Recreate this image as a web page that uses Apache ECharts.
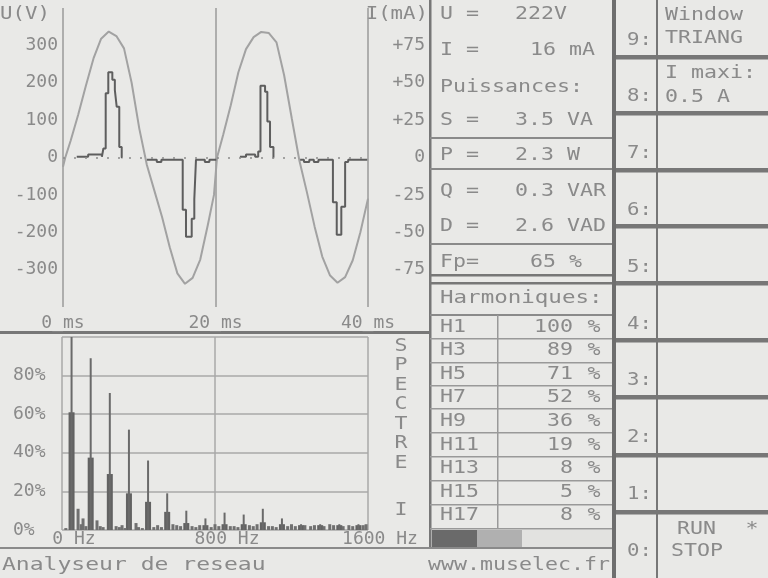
<!DOCTYPE html>
<html><head><meta charset="utf-8">
<script src="https://cdn.jsdelivr.net/npm/echarts@6/dist/echarts.min.js"></script>
<style>html,body{margin:0;padding:0;background:#e9e9e7;} #c{width:768px;height:578px;}</style>
</head><body><div id="c"></div>
<script>
// ---- waveform data (time ms) ----
const voltT = [0,0.3,1,2,3,4,5,6,7,8,9,10,11,12,13,14,15,16,17,18,19,19.8,20.2,21,22,23,24,25,26,27,28,29,30,31,32,33,34,35,36,37,38,39,40];
const voltV = [-25,0,45,115,192,265,318,337,325,292,200,78,-20,-90,-160,-240,-310,-338,-322,-273,-180,-100,0,60,140,228,290,322,336,333,308,220,105,-8,-94,-185,-265,-315,-335,-320,-275,-200,-110];
const curT = [1.8,3.3,5.1,5.3,5.6,5.94,6.47,6.8,7.04,7.38,7.7,7.8, 11.0,12.3,12.9,15.7,16.13,16.88,17.22,17.44,18.6,19.2,20.0,20.1, 23.2,24.0,25.2,25.6,25.9,26.5,26.8,27.15,27.6,27.7, 31.1,31.6,32.3,32.9,33.5,35.4,35.9,36.5,37.0,37.4,39.9];
const curI = [0.5,2,0.5,6,43,57,52,45,34,7,0,null, -1.5,-3,-1.5,-35,-53,-41,-28,-1.5,-3,-1.5,-1.5,null, 0.5,2,0.5,4,48,44,24,7,0,null, -1.5,-3,-1.5,-3,-1.5,-30,-51.6,-33,-3,-1.5,-1.5];
const timeLabels = ['0_ms','20_ms','40_ms'];
const voltTicks = [-300,-200,-100,0,100,200,300];
const curTicks = ['-75','-50','-25','0','+25','+50','+75'];

// ---- spectrum data ----
const harmFreq = [50,150,250,350,450,550,650,750,850,950,1050,1150,1250,1350,1450,1550];
const peakPct  = [100,89,71,52,36,19,10,6,9,8,11,6,3,3,3,3];
const windowPct= [61,37.5,29,19,14.6,9.4,3.6,2.5,3,3,4,3,2.5,2.5,2.5,2.5];
const noiseFreq = [20,84,100,110,125,183,200,215,283,300,314,330,387,400,420,480,500,520,580,600,620,680,700,720,780,800,820,880,900,920,980,1000,1020,1080,1100,1120,1180,1200,1220,1270,1300,1320,1370,1400,1420,1470,1500,1520,1575,1590];
const noisePct  = [1,11,3,6,2,5,2,1.5,2,1.5,2.5,1,3.6,1.5,1,1.5,2.5,1.5,3,2.5,2,2,1.5,2.5,1.5,3,2,2,2,1.5,2.5,2,3,2,2,1.5,2,3,2,2.5,2,2.5,2,3,2.5,2,2.5,2,2.5,3];
const freqLabels = ['0 Hz','800 Hz','1600 Hz'];
const pctLabels = ['0%','20%','40%','60%','80%'];

// ---- measurement panel ----
const measNames = ['U =','I =','S =','P =','Q =','D =','Fp='];
const measValues = ['222V','16 mA','3.5 VA','2.3 W','0.3 VAR','2.6 VAD','65 %'];
const harmNames = ['H1','H3','H5','H7','H9','H11','H13','H15','H17'];
const harmPct = [100,89,71,52,36,19,8,5,8];
const keyLabels = ['9:','8:','7:','6:','5:','4:','3:','2:','1:','0:'];

const FONT = 'DejaVu Sans Mono';
const TXT = '#8a8a8a';
const LINE = '#777777';

const rect = (x,y,w,h,fill) => ({type:'rect', silent:true, shape:{x,y,width:w,height:h}, style:{fill}});
const text = (x,y,s,align,sx) => ({type:'text', silent:true, x, y, scaleX: sx===undefined?1.2:sx,
  style:{text:s, x:0, y:0, font:'18px ' + FONT, fill:TXT, textAlign:align||'left', align:align||'left', textVerticalAlign:'middle', verticalAlign:'middle'}});

const g = [];
// frame lines
g.push(rect(0,331,430,3,LINE));
g.push(rect(429,0,2.5,548,LINE));
g.push(rect(0,547,613,2,'#8a8a8a'));
g.push(rect(612,0,4,578,'#6e6e6e'));
// middle panel separators
[137,168,243].forEach(y => g.push(rect(430,y,182,2,'#8a8a8a')));
g.push(rect(430,274,182,2.5,LINE));
g.push(rect(430,282,182,2.5,LINE));
g.push(rect(430,314,182,2,'#8a8a8a'));
[338,362,385,408,432,456,480,504,528].forEach(y => g.push(rect(430,y,182,1.5,'#999')));
g.push(rect(497,315,1.5,214,'#999'));
// gradient blocks
g.push(rect(432,530,45,17,'#6a6a6a'));
g.push(rect(477,530,45,17,'#b0b0b0'));
g.push(rect(522,530,90,17,'#e2e2e0'));
// right panel
g.push(rect(656,0,2,578,LINE));
[57,113,170,226,283,340,397,455,512].forEach(y => g.push(rect(616,y-2,152,4.5,LINE)));

// waveform axis titles
g.push(text(0,14,'U(V)','left',1.15));
g.push(text(428,14,'I(mA)','right',1.15));
// SPECTRE I
'SPECTRE'.split('').forEach((c,i) => g.push(text(401,346+i*19.5,c,'center',1.2)));
g.push(text(401,510,'I','center',1.2));

// measurement panel text
const measY = [14,50,120,155,191,226,262];
const measVX = [515,530,515,515,515,515,530];
measNames.forEach((n,i) => {
  g.push(text(440,measY[i],n,'left',1.2));
  g.push(text(measVX[i],measY[i],measValues[i],'left',1.2));
});
g.push(text(440,87,'Puissances:','left',1.2));
g.push(text(440,298,'Harmoniques:','left',1.25));
harmNames.forEach((n,i) => {
  const y = 327 + i*23.6;
  g.push(text(440,y,n,'left',1.2));
  g.push(text(573,y,String(harmPct[i]),'right',1.2));
  g.push(text(594,y,'%','center',1.2));
});
// right panel text
keyLabels.forEach((k,i) => g.push(text(652,40+i*56.8,k,'right',1.15)));
g.push(text(665,15,'Window','left',1.2));
g.push(text(665,38,'TRIANG','left',1.2));
g.push(text(665,73,'I maxi:','left',1.2));
g.push(text(665,97,'0.5 A','left',1.2));
g.push(text(677,529,'RUN','left',1.2));
g.push(text(752,529,'*','center',1.2));
g.push(text(671,551,'STOP','left',1.2));
// footer
g.push(text(2,565,'Analyseur de reseau','left',1.28));
g.push(text(610,565,'www.muselec.fr','right',1.2));

const axisText = {color:TXT, fontFamily:FONT, fontSize:18};
const option = {
  backgroundColor:'#e9e9e7',
  animation:false,
  grid:[
    {left:63, right:400, top:8, bottom:271},
    {left:62, right:400, top:337, bottom:48}
  ],
  xAxis:[
    {gridIndex:0, type:'value', min:0, max:40, interval:20,
     axisLine:{show:false}, axisTick:{show:false},
     splitLine:{show:true, lineStyle:{color:'#9a9a9a', width:1.5}},
     axisLabel:Object.assign({margin:7, formatter:v => timeLabels[Math.round(v/20)]}, axisText)},
    {gridIndex:1, type:'value', min:0, max:1600, interval:800,
     axisLine:{show:false}, axisTick:{show:false},
     splitLine:{show:true, lineStyle:{color:'#a8a8a8', width:1.5}},
     axisLabel:Object.assign({margin:0, padding:[0,0,0,24], formatter:v => freqLabels[Math.round(v/800)]}, axisText)},
    {gridIndex:1, type:'value', min:0, max:1600, show:false},
    {gridIndex:1, type:'value', min:0, max:1600, show:false}
  ],
  yAxis:[
    {gridIndex:0, type:'value', min:-400, max:400, interval:100, position:'left',
     axisLine:{show:false}, axisTick:{show:false}, splitLine:{show:false},
     axisLabel:Object.assign({margin:5, formatter:v => voltTicks.indexOf(v) >= 0 ? String(v) : ''}, axisText)},
    {gridIndex:0, type:'value', min:-100, max:100, interval:25, position:'right',
     axisLine:{show:false}, axisTick:{show:false}, splitLine:{show:false},
     axisLabel:Object.assign({margin:57, align:'right', formatter:v => { const k = Math.round(v/25)+3; return (k>=0 && k<curTicks.length) ? curTicks[k] : ''; }}, axisText)},
    {gridIndex:1, type:'value', min:0, max:100, interval:20,
     axisLine:{show:false}, axisTick:{show:false},
     splitLine:{show:true, lineStyle:{color:'#a8a8a8', width:1.5}},
     axisLabel:Object.assign({margin:49, align:'left', formatter:v => { const k = Math.round(v/20); return k < pctLabels.length ? pctLabels[k] : ''; }}, axisText)}
  ],
  series:[
    {type:'line', name:'U', xAxisIndex:0, yAxisIndex:0, showSymbol:false, symbol:'none',
     data: voltT.map((t,i) => [t, voltV[i]]),
     lineStyle:{color:'#a2a2a2', width:2},
     markLine:{silent:true, symbol:'none', label:{show:false},
       lineStyle:{color:'#8a8a8a', type:[2,9], width:1.5}, data:[{yAxis:0}]}},
    {type:'line', name:'I', xAxisIndex:0, yAxisIndex:1, step:'end', showSymbol:false, symbol:'none', connectNulls:false,
     data: curT.map((t,i) => [t, curI[i] === null ? '-' : curI[i]]),
     lineStyle:{color:'#5e5e5e', width:2}},
    {type:'bar', name:'window', xAxisIndex:1, yAxisIndex:2, barWidth:6,
     data: harmFreq.map((f,i) => [f, windowPct[i]]), itemStyle:{color:'#626262'}},
    {type:'bar', name:'peak', xAxisIndex:2, yAxisIndex:2, barWidth:2,
     data: harmFreq.map((f,i) => [f, peakPct[i]]), itemStyle:{color:'#6a6a6a'}},
    {type:'bar', name:'noise', xAxisIndex:3, yAxisIndex:2, barWidth:3,
     data: noiseFreq.map((f,i) => [f, noisePct[i]]), itemStyle:{color:'#707070'}}
  ],
  graphic: g
};
const chart = echarts.init(document.getElementById('c'), null, {renderer:'canvas'});
chart.setOption(option);
</script>
</body></html>
